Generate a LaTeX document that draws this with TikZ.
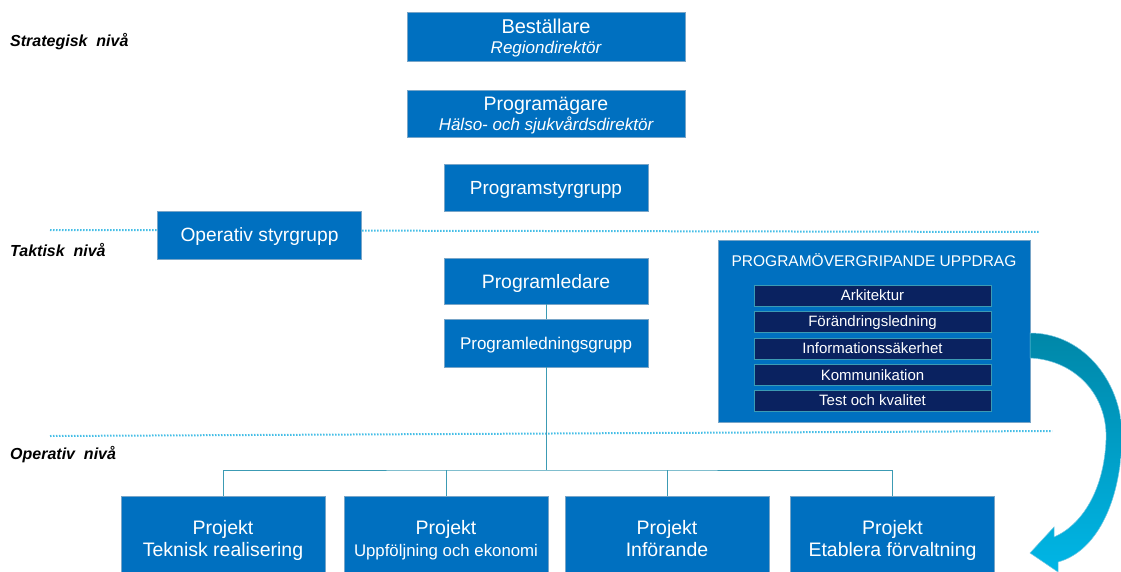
\documentclass[tikz,border=0pt]{standalone}
\usepackage{fontspec}
\setmainfont{Liberation Sans}
\definecolor{boxblue}{RGB}{0,112,192}
\definecolor{boxedge}{RGB}{120,165,200}
\definecolor{navy}{RGB}{10,34,96}
\definecolor{linkteal}{RGB}{60,155,180}
\definecolor{dotcyan}{RGB}{70,190,230}
\begin{document}
\begin{tikzpicture}[x=1pt,y=-1pt,
  unit/.style={draw=boxedge,line width=0.8pt,fill=boxblue,text=white,inner sep=0pt,text depth=0pt,
    align=center,minimum width=204,minimum height=47,font=\fontsize{19.5}{22}\selectfont},
  wide/.style={unit,minimum width=278},
  task/.style={draw=linkteal,line width=0.6pt,fill=navy,text=white,inner sep=0pt,text depth=0pt,
    minimum width=237,minimum height=21,font=\fontsize{15}{16}\selectfont},
  level/.style={anchor=west,inner sep=0pt,font=\fontsize{16}{18}\selectfont\bfseries\itshape},
  link/.style={draw=linkteal,line width=0.9pt},
  divider/.style={draw=dotcyan,line width=2pt,dash pattern=on 1.5pt off 1.5pt}]
  \useasboundingbox (0,0) rectangle (1121,572);
  % level dividers
  \draw[divider] (50,230) -- (1040,232);
  \draw[divider] (50,436) -- (1052,431);
  \node[level] (strat) at (10,42) {Strategisk\ \ nivå};
  \node[level] (takt) at (10,250) {Taktisk\ \ nivå};
  \node[level] (oper) at (10,455) {Operativ\ \ nivå};
  % management chain
  \node[wide,minimum height=49] (bestallare) at (546,36.5)
    {\fontsize{20}{21}\selectfont Beställare\\[-2pt]{\fontsize{17}{19}\selectfont\itshape Regiondirektör}};
  \node[wide] (agare) at (546,113.5)
    {\fontsize{19.5}{21}\selectfont Programägare\\[-2pt]{\fontsize{17}{19}\selectfont\itshape Hälso- och sjukvårdsdirektör}};
  \node[unit,font=\fontsize{19}{22}\selectfont] (styrgrupp) at (546,187.5) {Programstyrgrupp};
  \node[unit,minimum height=48,font=\fontsize{19.2}{22}\selectfont] (opstyr) at (259.5,235) {Operativ styrgrupp};
  \node[unit,minimum height=46,font=\fontsize{19.4}{22}\selectfont] (ledare) at (546,281) {Programledare};
  \node[unit,minimum height=48,font=\fontsize{17}{19}\selectfont] (ledgrupp) at (546,343) {Programledningsgrupp};
  % cross-programme assignments
  \node[unit,minimum width=312,minimum height=182] (uppdrag) at (874,331) {};
  \node[text=white,text depth=0pt,font=\fontsize{15.5}{18}\selectfont] (uppdragtitel) at (874,260) {PROGRAMÖVERGRIPANDE UPPDRAG};
  \node[task] (arkitektur) at (872.5,295.5) {Arkitektur};
  \node[task] (forandring) at (872.5,321.5) {Förändringsledning};
  \node[task] (sakerhet) at (872.5,348.5) {Informationssäkerhet};
  \node[task] (kommunikation) at (872.5,375) {Kommunikation};
  \node[task] (kvalitet) at (872.5,400.5) {Test och kvalitet};
  % projects
  \node[unit,minimum height=84] (teknisk) at (223,538) {Projekt\\Teknisk realisering};
  \node[unit,minimum height=84] (ekonomi) at (446,538) {Projekt\\{\fontsize{16.8}{22}\selectfont Uppföljning och ekonomi}};
  \node[unit,minimum height=84] (inforande) at (667,538) {Projekt\\Införande};
  \node[unit,minimum height=84] (forvaltning) at (892.5,538) {Projekt\\Etablera förvaltning};
  % connectors
  \coordinate (bus) at (546,470);
  \draw[link] (ledare) -- (ledgrupp);
  \draw[link] (ledgrupp) -- (bus);
  \draw[link] (teknisk.north) |- (bus) -| (forvaltning.north);
  \draw[link] (ekonomi.north) -- (ekonomi.north |- bus);
  \draw[link] (inforande.north) -- (inforande.north |- bus);
  % curved arrow from assignments to projects
  \shade[top color={rgb,255:red,0;green,135;blue,168},bottom color={rgb,255:red,0;green,182;blue,230},
    draw={rgb,255:red,120;green,200;blue,225},line width=0.5pt]
    (1030,333) .. controls (1085,333) and (1124,385) .. (1122,440)
    .. controls (1120,505) and (1095,552) .. (1058,562) -- (1058,572) -- (1030,553)
    -- (1054,527) -- (1054,537) .. controls (1082,525) and (1104,490) .. (1106,440)
    .. controls (1108,395) and (1075,360) .. (1030,358) -- cycle;
\end{tikzpicture}
\end{document}
